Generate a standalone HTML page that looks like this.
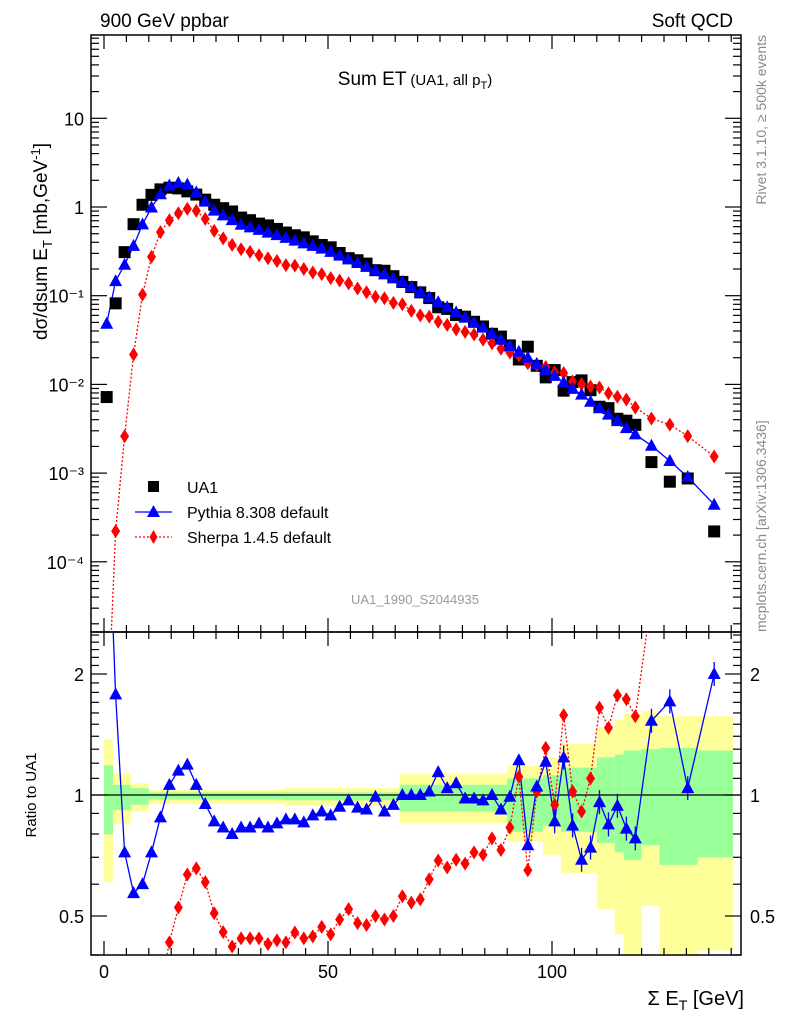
<!DOCTYPE html>
<html><head><meta charset="utf-8"><style>
html,body{margin:0;padding:0;background:#fff;width:786px;height:1024px;overflow:hidden;}
svg{display:block;font-family:"Liberation Sans",sans-serif;}
</style></head><body>
<svg id="chart" width="786" height="1024" viewBox="0 0 786 1024" xmlns="http://www.w3.org/2000/svg">
<defs>
<clipPath id="cm"><rect x="91" y="35" width="650" height="597"/></clipPath>
<clipPath id="cr"><rect x="91" y="632" width="650" height="323"/></clipPath>
</defs>
<g id="bands" clip-path="url(#cr)"></g>
<g id="axes"></g>
<g id="marks"></g>
<text x="100" y="27" font-size="19">900 GeV ppbar</text>
<text x="733" y="27" font-size="19" text-anchor="end">Soft QCD</text>
<text x="415" y="85" font-size="19" text-anchor="middle">Sum ET<tspan font-size="15" dx="4">(UA1, all p</tspan><tspan font-size="11" dy="4">T</tspan><tspan font-size="15" dy="-4">)</tspan></text>
<text x="415" y="604" font-size="13" fill="#999" text-anchor="middle">UA1_1990_S2044935</text>
<text transform="translate(766,35) rotate(-90)" font-size="14" fill="#888" text-anchor="end">Rivet 3.1.10, ≥ 500k events</text>
<text transform="translate(766,632) rotate(-90)" font-size="14" fill="#888">mcplots.cern.ch [arXiv:1306.3436]</text>
<text transform="translate(47,340) rotate(-90)" font-size="19">dσ/dsum E<tspan font-size="13" dy="5">T</tspan><tspan dy="-5"> [mb,GeV</tspan><tspan font-size="13" dy="-7">-1</tspan><tspan dy="7">]</tspan></text>
<text transform="translate(36,795) rotate(-90)" font-size="15" text-anchor="middle">Ratio to UA1</text>
<text x="744" y="1005" font-size="20" text-anchor="end">Σ E<tspan font-size="14" dy="5">T</tspan><tspan dy="-5"> [GeV]</tspan></text>
<g>
<rect x="148" y="481" width="11" height="11" fill="#000"/>
<text x="187" y="493" font-size="16">UA1</text>
<line x1="135" y1="512" x2="172" y2="512" stroke="#00f" stroke-width="1.2"/>
<polygon points="153.5,505 160,517 147,517" fill="#00f"/>
<text x="187" y="518" font-size="16">Pythia 8.308 default</text>
<line x1="135" y1="537" x2="172" y2="537" stroke="#f00" stroke-width="1.2" stroke-dasharray="2,2"/>
<polygon points="153.5,530 157.5,537 153.5,544 149.5,537" fill="#f00"/>
<text x="187" y="543" font-size="16">Sherpa 1.4.5 default</text>
</g>
</svg>
<script>
const xVals=[0.6,2.6,4.6,6.6,8.6,10.6,12.6,14.6,16.6,18.6,20.6,22.6,24.6,26.6,28.6,30.6,32.6,34.6,36.6,38.6,40.6,42.6,44.6,46.6,48.6,50.6,52.6,54.6,56.6,58.6,60.6,62.6,64.6,66.6,68.6,70.6,72.6,74.6,76.6,78.6,80.6,82.6,84.6,86.6,88.6,90.6,92.6,94.6,96.6,98.6,100.6,102.6,104.6,106.6,108.6,110.6,112.6,114.6,116.6,118.6,122.2,126.3,130.3,136.2];
const ua1Vals=[0.0072,0.082,0.31,0.64,1.06,1.37,1.58,1.65,1.62,1.5,1.38,1.21,1.06,0.97,0.89,0.76,0.71,0.65,0.62,0.566,0.515,0.48,0.455,0.41,0.373,0.351,0.303,0.265,0.251,0.23,0.194,0.191,0.166,0.143,0.125,0.109,0.094,0.074,0.071,0.0605,0.058,0.0508,0.045,0.0372,0.0346,0.0275,0.0191,0.0266,0.0162,0.012,0.0145,0.0085,0.0106,0.0111,0.0086,0.0056,0.0054,0.0041,0.0039,0.0035,0.00133,0.0008,0.00087,0.00022];
const pythiaRatio=[6.7,1.78,0.72,0.57,0.60,0.72,0.88,1.06,1.15,1.19,1.06,0.95,0.86,0.83,0.80,0.83,0.83,0.85,0.83,0.85,0.87,0.87,0.855,0.89,0.91,0.89,0.935,0.97,0.93,0.92,0.99,0.91,0.945,1.0,1.0,1.0,1.02,1.14,1.04,1.07,0.98,0.98,0.97,1.0,0.92,0.99,1.22,0.75,1.05,1.21,0.86,1.24,0.84,0.69,0.74,0.96,0.845,0.94,0.825,0.78,1.53,1.71,1.04,2.0];
const sherpaRatio=[0.00013,0.0027,0.0084,0.034,0.097,0.2,0.33,0.43,0.525,0.634,0.657,0.607,0.508,0.456,0.42,0.44,0.44,0.44,0.426,0.435,0.43,0.455,0.44,0.445,0.47,0.45,0.49,0.52,0.48,0.475,0.5,0.49,0.5,0.56,0.54,0.55,0.617,0.687,0.66,0.69,0.675,0.72,0.71,0.78,0.73,0.83,1.11,0.65,1.02,1.31,0.945,1.58,1.02,0.91,1.1,1.65,1.47,1.77,1.73,1.57,3.1,4.4,3.0,7.0];
const bandLo=[0,2,6,10,40,66,90,98,102,110,114,116,120,124,132.5];
const bandHi=[2,6,10,40,66,90,98,102,110,114,116,120,124,132.5,140.4];
const yellowUp=[1.375,1.13,1.07,1.03,1.04,1.13,1.18,1.24,1.34,1.47,1.54,1.59,1.62,1.57,1.57];
const yellowDn=[0.607,0.846,0.91,0.95,0.94,0.85,0.765,0.71,0.64,0.52,0.45,0.38,0.53,0.38,0.41];
const greenUp=[1.186,1.06,1.04,1.015,1.015,1.06,1.10,1.12,1.17,1.24,1.26,1.29,1.30,1.31,1.29];
const greenDn=[0.798,0.918,0.945,0.975,0.97,0.91,0.81,0.84,0.81,0.76,0.72,0.69,0.75,0.67,0.70];
const xTickLabels=["0","50","100"];
const mainTickLabels=["10⁻⁴","10⁻³","10⁻²","10⁻¹","1","10"];
const ratioTickLabels=["0.5","1","2"];

const NS="http://www.w3.org/2000/svg";
const X=v=>104+4.48*v;
const clampY=y=>Math.max(0,Math.min(1020,y));
const YM=v=>clampY(207-88.7*Math.log10(v));
const YR=v=>clampY(795-402*Math.log10(v));
function mk(tag,attrs,parent,txt){const e=document.createElementNS(NS,tag);for(const k in attrs)e.setAttribute(k,attrs[k]);if(txt!==undefined)e.textContent=txt;parent.appendChild(e);return e;}
const bands=document.getElementById('bands'),axes=document.getElementById('axes'),marks=document.getElementById('marks');

for(let i=0;i<bandLo.length;i++){
  const x1=X(bandLo[i]),x2=X(bandHi[i]);
  const y=mk('rect',{x:x1,y:YR(yellowUp[i]),width:x2-x1,height:YR(yellowDn[i])-YR(yellowUp[i]),fill:'#ffff99'},bands);
  
  
  const g=mk('rect',{x:x1,y:YR(greenUp[i]),width:x2-x1,height:YR(greenDn[i])-YR(greenUp[i]),fill:'#99ff99'},bands);
  
  
}
mk('line',{x1:91,x2:741,y1:YR(1),y2:YR(1),stroke:'#000','stroke-width':1.3},bands);

mk('rect',{x:91,y:35,width:650,height:597,fill:'none',stroke:'#000','stroke-width':1.5},axes);
mk('rect',{x:91,y:632,width:650,height:323,fill:'none',stroke:'#000','stroke-width':1.5},axes);
for(let v=0;v<=140;v+=5){
  const x=X(v),L=(v%50===0)?14:7;
  for(const [yb,dir] of [[955,-1],[632,-1],[632,1],[35,1]]){
    mk('line',{x1:x,x2:x,y1:yb,y2:yb+dir*L,stroke:'#000','stroke-width':1.2},axes);
  }
}
xTickLabels.forEach((t,i)=>{const e=mk('text',{x:X(i*50),y:978,'font-size':18,'text-anchor':'middle'},axes,t);

});
for(let d=-5;d<=1;d++){
  for(let m=1;m<=9;m++){
    const v=m*Math.pow(10,d),y=207-88.7*Math.log10(v);
    if(y<35||y>632)continue;
    const L=m===1?16:8;
    mk('line',{x1:91,x2:91+L,y1:y,y2:y,stroke:'#000','stroke-width':1.2},axes);
    mk('line',{x1:741,x2:741-L,y1:y,y2:y,stroke:'#000','stroke-width':1.2},axes);
  }
}
mainTickLabels.forEach((t,i)=>{const e=mk('text',{x:84,y:YM(Math.pow(10,i-4))+7,'font-size':18,'text-anchor':'end'},axes,t);

});
for(let k=4;k<=25;k++){
  const v=k/10,y=YR(v);
  if(y<632||y>955)continue;
  const L=(k===5||k===10||k===20)?16:8;
  mk('line',{x1:91,x2:91+L,y1:y,y2:y,stroke:'#000','stroke-width':1.2},axes);
  mk('line',{x1:741,x2:741-L,y1:y,y2:y,stroke:'#000','stroke-width':1.2},axes);
}
ratioTickLabels.forEach(t=>{const v=parseFloat(t);
const a=mk('text',{x:84,y:YR(v)+7,'font-size':18,'text-anchor':'end'},axes,t);


const b=mk('text',{x:750,y:YR(v)+7,'font-size':18},axes,t);

});

const gm=mk('g',{'clip-path':'url(#cm)'},marks);
const gr=mk('g',{'clip-path':'url(#cr)'},marks);
const pyMain=ua1Vals.map((u,i)=>u*pythiaRatio[i]);
const shMain=ua1Vals.map((u,i)=>u*sherpaRatio[i]);
function line(vals,Y,g,color,dash){
  const p=vals.map((v,i)=>X(xVals[i]).toFixed(1)+','+Y(v).toFixed(1)).join(' ');
  const a={points:p,fill:'none',stroke:color,'stroke-width':1.3};
  if(dash)a['stroke-dasharray']='2,2';
  return mk('polyline',a,g);
}
function tri(x,y,g){return mk('polygon',{points:`${x},${y-7} ${x+6.5},${y+5} ${x-6.5},${y+5}`,fill:'#00f'},g);}
function dia(x,y,g){return mk('polygon',{points:`${x},${y-7} ${x+4.5},${y} ${x},${y+7} ${x-4.5},${y}`,fill:'#f00'},g);}
const inMain=y=>y>20&&y<650, inRatio=y=>y>615&&y<975;

const l1=line(shMain,YM,gm,'#f00',true);


const l2=line(pyMain,YM,gm,'#00f',false);


ua1Vals.forEach((v,i)=>{const y=YM(v);if(!inMain(y))return;const r=mk('rect',{x:X(xVals[i])-6,y:y-6,width:12,height:12,fill:'#000'},gm);

});
shMain.forEach((v,i)=>{const y=YM(v);if(!inMain(y))return;const d=dia(X(xVals[i]),y,gm);

});
pyMain.forEach((v,i)=>{const y=YM(v);if(!inMain(y))return;const t=tri(X(xVals[i]),y,gm);

});

const l3=line(sherpaRatio,YR,gr,'#f00',true);


const l4=line(pythiaRatio,YR,gr,'#00f',false);


sherpaRatio.forEach((v,i)=>{const y=YR(v);if(!inRatio(y))return;const d=dia(X(xVals[i]),y,gr);

});
pythiaRatio.forEach((v,i)=>{const x=X(xVals[i]),y=YR(v);if(!inRatio(y))return;
if(xVals[i]>100){const e=mk('line',{x1:x,x2:x,y1:y-12,y2:y+12,stroke:'#00f','stroke-width':1.3},gr);

}
const t=tri(x,y,gr);

});
</script>
</body></html>
